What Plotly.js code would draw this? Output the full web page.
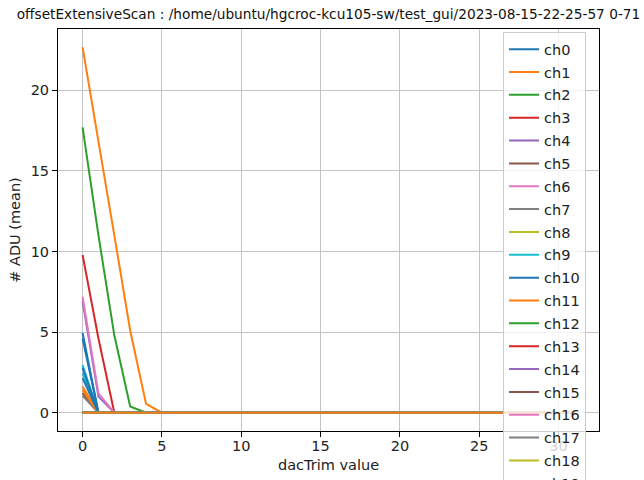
<!DOCTYPE html>
<html>
<head>
<meta charset="utf-8">
<script src="https://cdn.plot.ly/plotly-3.0.1.min.js"></script>
<style>html,body{margin:0;padding:0;background:#fff;}#chart{width:644px;height:480px;}</style>
</head>
<body>
<div id="chart"></div>
<script>
// dacTrim scan points
const dacTrim = [0,1,2,3,4,5,6,7, 8,9,10,11,12,13,14,15, 16,17,18,19,20,21,22,23, 24,25,26,27,28,29,30,31];

// channels read as flat zero over the whole scan
const flatZero = [0,0,0,0,0,0,0,0, 0,0,0,0,0,0,0,0, 0,0,0,0,0,0,0,0, 0,0,0,0,0,0,0,0];

// channels with non-zero mean ADU at low dacTrim
const ch0  = [4.95,0,0,0,0,0,0,0, 0,0,0,0,0,0,0,0, 0,0,0,0,0,0,0,0, 0,0,0,0,0,0,0,0];
const ch1  = [22.66,16.9,11.0,5.1,0.55,0,0,0, 0,0,0,0,0,0,0,0, 0,0,0,0,0,0,0,0, 0,0,0,0,0,0,0,0];
const ch2  = [17.69,11.0,4.8,0.39,0,0,0,0, 0,0,0,0,0,0,0,0, 0,0,0,0,0,0,0,0, 0,0,0,0,0,0,0,0];
const ch3  = [9.78,4.6,0,0,0,0,0,0, 0,0,0,0,0,0,0,0, 0,0,0,0,0,0,0,0, 0,0,0,0,0,0,0,0];
const ch4  = [6.9,1.0,0,0,0,0,0,0, 0,0,0,0,0,0,0,0, 0,0,0,0,0,0,0,0, 0,0,0,0,0,0,0,0];
const ch5  = [1.22,0,0,0,0,0,0,0, 0,0,0,0,0,0,0,0, 0,0,0,0,0,0,0,0, 0,0,0,0,0,0,0,0];
const ch6  = [7.2,1.2,0,0,0,0,0,0, 0,0,0,0,0,0,0,0, 0,0,0,0,0,0,0,0, 0,0,0,0,0,0,0,0];
const ch7  = [1.05,0,0,0,0,0,0,0, 0,0,0,0,0,0,0,0, 0,0,0,0,0,0,0,0, 0,0,0,0,0,0,0,0];
const ch9  = [2.95,0,0,0,0,0,0,0, 0,0,0,0,0,0,0,0, 0,0,0,0,0,0,0,0, 0,0,0,0,0,0,0,0];
const ch10 = [4.6,0,0,0,0,0,0,0, 0,0,0,0,0,0,0,0, 0,0,0,0,0,0,0,0, 0,0,0,0,0,0,0,0];
const ch11 = [1.63,0,0,0,0,0,0,0, 0,0,0,0,0,0,0,0, 0,0,0,0,0,0,0,0, 0,0,0,0,0,0,0,0];
const ch19 = [2.46,0,0,0,0,0,0,0, 0,0,0,0,0,0,0,0, 0,0,0,0,0,0,0,0, 0,0,0,0,0,0,0,0];
const ch20 = [2.78,0,0,0,0,0,0,0, 0,0,0,0,0,0,0,0, 0,0,0,0,0,0,0,0, 0,0,0,0,0,0,0,0];
const ch21 = [1.42,0,0,0,0,0,0,0, 0,0,0,0,0,0,0,0, 0,0,0,0,0,0,0,0, 0,0,0,0,0,0,0,0];
const ch30 = [2.15,0,0,0,0,0,0,0, 0,0,0,0,0,0,0,0, 0,0,0,0,0,0,0,0, 0,0,0,0,0,0,0,0];

const activeChannels = {0:ch0,1:ch1,2:ch2,3:ch3,4:ch4,5:ch5,6:ch6,7:ch7,9:ch9,10:ch10,11:ch11,19:ch19,20:ch20,21:ch21,30:ch30};
const channelNames = [];
for (let i = 0; i < 72; i++) channelNames.push('ch' + i);

const tab10 = ['#1f77b4','#ff7f0e','#2ca02c','#d62728','#9467bd','#8c564b','#e377c2','#7f7f7f','#bcbd22','#17becf'];

const traces = channelNames.map((name, i) => ({
  type: 'scatter',
  mode: 'lines',
  name: name,
  legendgroup: name,
  x: dacTrim,
  y: activeChannels[i] || flatZero,
  line: {color: tab10[i % 10], width: 2}
}));

const FONT = 'DejaVu Sans, sans-serif';
const layout = {
  width: 644, height: 480,
  margin: {l: 58, r: 45, t: 29, b: 49, pad: 0, autoexpand: false},
  paper_bgcolor: '#ffffff', plot_bgcolor: '#ffffff',
  font: {family: FONT, color: '#222', size: 14.5},
  showlegend: true,
  title: {
    text: 'offsetExtensiveScan : /home/ubuntu/hgcroc-kcu105-sw/test_gui/2023-08-15-22-25-57 0-71',
    x: 0.5, xref: 'paper', xanchor: 'center',
    y: 0.971, yref: 'container', yanchor: 'middle',
    font: {family: FONT, size: 13.7, color: '#111'}
  },
  xaxis: {
    range: [-1.55, 32.55], tick0: 0, dtick: 5,
    showline: true, mirror: true, linecolor: '#000', linewidth: 1,
    ticks: 'outside', ticklen: 5, tickcolor: '#000', tickwidth: 1,
    showgrid: true, gridcolor: '#c4c4c4', gridwidth: 1, zeroline: false,
    tickfont: {size: 14.5}, ticklabelstandoff: -3,
    title: {text: 'dacTrim value', font: {size: 14.5}, standoff: 6}
  },
  yaxis: {
    range: [-1.133, 23.79], tick0: 0, dtick: 5,
    showline: true, mirror: true, linecolor: '#000', linewidth: 1,
    ticks: 'outside', ticklen: 5, tickcolor: '#000', tickwidth: 1,
    showgrid: true, gridcolor: '#c4c4c4', gridwidth: 1, zeroline: false,
    tickfont: {size: 14.5},
    title: {text: '# ADU (mean)', font: {size: 14.5}, standoff: 6}
  },
  legend: {
    x: 0.8226, xanchor: 'left', y: 0.992, yanchor: 'top',
    bgcolor: 'rgba(255,255,255,0.8)', bordercolor: '#cccccc', borderwidth: 1,
    font: {size: 14.5}, maxheight: 2000, tracegroupgap: 1
  }
};

Plotly.newPlot('chart', traces, layout, {staticPlot: true, displayModeBar: false});
</script>
</body>
</html>
